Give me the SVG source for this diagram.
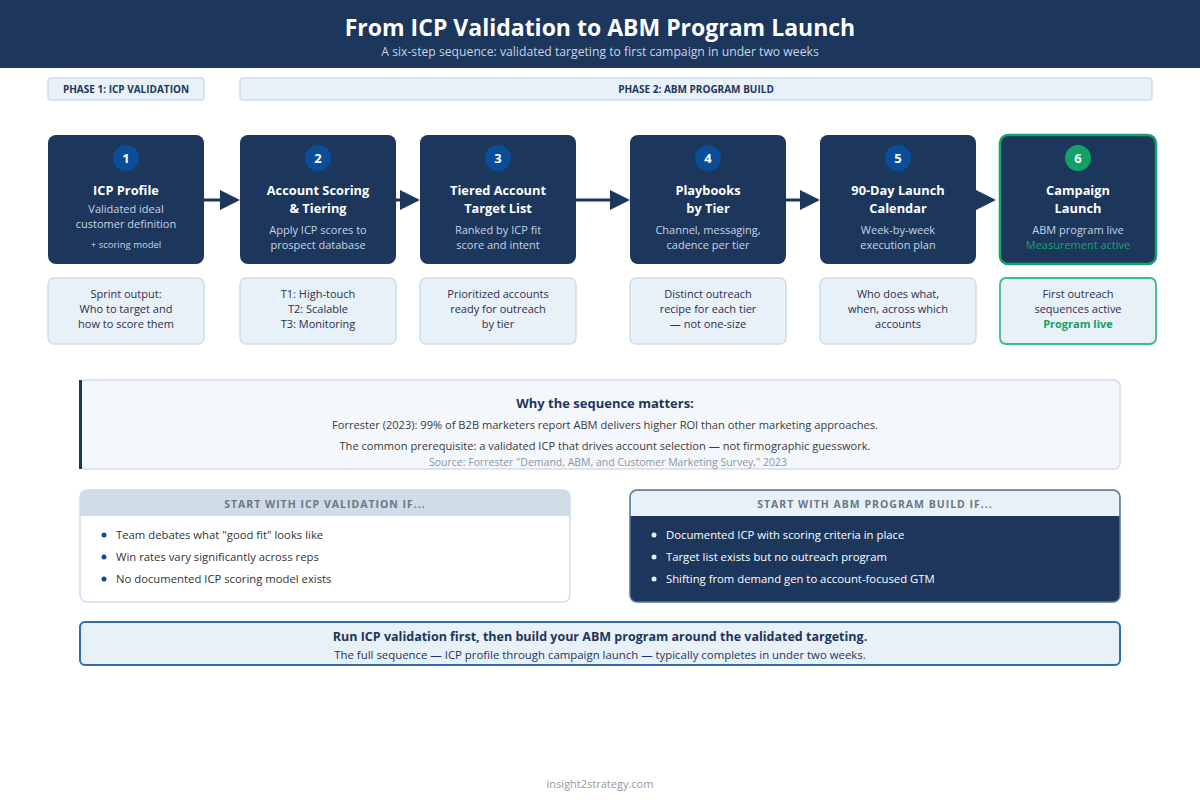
<svg xmlns="http://www.w3.org/2000/svg" width="1200" height="800" viewBox="0 0 1200 800">
<defs>
<style>
text{font-family:"Open Sans","Noto Sans","DejaVu Sans",sans-serif;}
.node{fill:#1c365c;}
.num{fill:#ffffff;font-size:13px;font-weight:700;text-anchor:middle;}
.ttl{fill:#ffffff;font-size:12.8px;font-weight:700;text-anchor:middle;}
.dsc{fill:#c6d4e6;font-size:11px;text-anchor:middle;}
.sm{fill:#c6d4e6;font-size:9.5px;text-anchor:middle;}
.out{fill:#e8f0f8;stroke:#d0dcea;stroke-width:1.5;}
.otx{fill:#2b2f52;font-size:11px;text-anchor:middle;}
.ph{fill:#e8f0f8;stroke:#d0dcea;stroke-width:1.5;}
.phx{fill:#1c365c;font-size:10px;font-weight:700;text-anchor:middle;}
.conn line{stroke:#1c365c;stroke-width:3;}
.conn polygon{fill:#1c365c;}
.bul{font-size:11.3px;}
.hdr{font-size:10.5px;font-weight:700;letter-spacing:1px;fill:#6b7785;text-anchor:middle;}
</style>
</defs>
<rect width="1200" height="800" fill="#ffffff"/>
<g id="header">
<rect x="0" y="0" width="1200" height="68" fill="#1c365c"/>
<text x="600" y="36" fill="#ffffff" font-size="23" font-weight="700" text-anchor="middle">From ICP Validation to ABM Program Launch</text>
<text x="600" y="56" fill="#c6d4e6" font-size="12.2" text-anchor="middle">A six-step sequence: validated targeting to first campaign in under two weeks</text>
</g>
<g id="phase1">
<rect class="ph" x="48" y="78" width="156" height="22" rx="3"/>
<text class="phx" x="126" y="92.5">PHASE 1: ICP VALIDATION</text>
</g>
<g id="phase2">
<rect class="ph" x="240" y="78" width="912" height="22" rx="3"/>
<text class="phx" x="696" y="92.5">PHASE 2: ABM PROGRAM BUILD</text>
</g>
<g id="connectors" class="conn">
<line x1="204" y1="200" x2="222" y2="200"/><polygon points="220,190 240,200 220,210"/>
<line x1="396" y1="200" x2="402" y2="200"/><polygon points="400,190 420,200 400,210"/>
<line x1="576" y1="200" x2="612" y2="200"/><polygon points="610,190 630,200 610,210"/>
<line x1="786" y1="200" x2="802" y2="200"/><polygon points="800,190 820,200 800,210"/>
<polygon points="976,190 996,200 976,210"/>
</g>
<g id="node1">
<rect class="node" x="48" y="135" width="156" height="129" rx="8"/>
<circle cx="126" cy="158" r="13" fill="#0a4d98"/>
<text class="num" x="126" y="163">1</text>
<text class="ttl" x="126" y="195">ICP Profile</text>
<text class="dsc" x="126" y="213">Validated ideal</text>
<text class="dsc" x="126" y="228">customer definition</text>
<text class="sm" x="126" y="248">+ scoring model</text>
</g>
<g id="node2">
<rect class="node" x="240" y="135" width="156" height="129" rx="8"/>
<circle cx="318" cy="158" r="13" fill="#0a4d98"/>
<text class="num" x="318" y="163">2</text>
<text class="ttl" x="318" y="195">Account Scoring</text>
<text class="ttl" x="318" y="213">&amp; Tiering</text>
<text class="dsc" x="318" y="234">Apply ICP scores to</text>
<text class="dsc" x="318" y="249">prospect database</text>
</g>
<g id="node3">
<rect class="node" x="420" y="135" width="156" height="129" rx="8"/>
<circle cx="498" cy="158" r="13" fill="#0a4d98"/>
<text class="num" x="498" y="163">3</text>
<text class="ttl" x="498" y="195">Tiered Account</text>
<text class="ttl" x="498" y="213">Target List</text>
<text class="dsc" x="498" y="234">Ranked by ICP fit</text>
<text class="dsc" x="498" y="249">score and intent</text>
</g>
<g id="node4">
<rect class="node" x="630" y="135" width="156" height="129" rx="8"/>
<circle cx="708" cy="158" r="13" fill="#0a4d98"/>
<text class="num" x="708" y="163">4</text>
<text class="ttl" x="708" y="195">Playbooks</text>
<text class="ttl" x="708" y="213">by Tier</text>
<text class="dsc" x="708" y="234">Channel, messaging,</text>
<text class="dsc" x="708" y="249">cadence per tier</text>
</g>
<g id="node5">
<rect class="node" x="820" y="135" width="156" height="129" rx="8"/>
<circle cx="898" cy="158" r="13" fill="#0a4d98"/>
<text class="num" x="898" y="163">5</text>
<text class="ttl" x="898" y="195">90-Day Launch</text>
<text class="ttl" x="898" y="213">Calendar</text>
<text class="dsc" x="898" y="234">Week-by-week</text>
<text class="dsc" x="898" y="249">execution plan</text>
</g>
<g id="node6">
<rect class="node" x="1000" y="135" width="156" height="129" rx="8" stroke="#13a56d" stroke-width="2.5"/>
<circle cx="1078" cy="158" r="13" fill="#10a266"/>
<text class="num" x="1078" y="163">6</text>
<text class="ttl" x="1078" y="195">Campaign</text>
<text class="ttl" x="1078" y="213">Launch</text>
<text class="dsc" x="1078" y="234">ABM program live</text>
<text class="dsc" x="1078" y="249" style="fill:#14a86c">Measurement active</text>
</g>
<g id="output1">
<rect class="out" x="48" y="278" width="156" height="66" rx="6"/>
<text class="otx" x="126" y="298">Sprint output:</text>
<text class="otx" x="126" y="313">Who to target and</text>
<text class="otx" x="126" y="328">how to score them</text>
</g>
<g id="output2">
<rect class="out" x="240" y="278" width="156" height="66" rx="6"/>
<text class="otx" x="318" y="298">T1: High-touch</text>
<text class="otx" x="318" y="313">T2: Scalable</text>
<text class="otx" x="318" y="328">T3: Monitoring</text>
</g>
<g id="output3">
<rect class="out" x="420" y="278" width="156" height="66" rx="6"/>
<text class="otx" x="498" y="298">Prioritized accounts</text>
<text class="otx" x="498" y="313">ready for outreach</text>
<text class="otx" x="498" y="328">by tier</text>
</g>
<g id="output4">
<rect class="out" x="630" y="278" width="156" height="66" rx="6"/>
<text class="otx" x="708" y="298">Distinct outreach</text>
<text class="otx" x="708" y="313">recipe for each tier</text>
<text class="otx" x="708" y="328">— not one-size</text>
</g>
<g id="output5">
<rect class="out" x="820" y="278" width="156" height="66" rx="6"/>
<text class="otx" x="898" y="298">Who does what,</text>
<text class="otx" x="898" y="313">when, across which</text>
<text class="otx" x="898" y="328">accounts</text>
</g>
<g id="output6">
<rect x="1000" y="278" width="156" height="66" rx="6" fill="#e8f0f8" stroke="#3dba8a" stroke-width="1.8"/>
<text class="otx" x="1078" y="298">First outreach</text>
<text class="otx" x="1078" y="313">sequences active</text>
<text class="otx" x="1078" y="328" font-weight="700" style="fill:#13a064">Program live</text>
</g>
<g id="why">
<rect x="80" y="380" width="1040" height="89" rx="6" fill="#f4f7fb" stroke="#d2deea" stroke-width="1.5"/>
<rect x="79" y="380" width="3" height="89" fill="#1c365c"/>
<text x="605" y="408" fill="#1c365c" font-size="13" font-weight="700" text-anchor="middle">Why the sequence matters:</text>
<text x="605" y="429" fill="#3a3a3a" font-size="11.1" text-anchor="middle">Forrester (2023): 99% of B2B marketers report ABM delivers higher ROI than other marketing approaches.</text>
<text x="605" y="450" fill="#3a3a3a" font-size="11.1" text-anchor="middle">The common prerequisite: a validated ICP that drives account selection — not firmographic guesswork.</text>
<text x="608" y="466" fill="#8c96a2" font-size="10.5" text-anchor="middle">Source: Forrester "Demand, ABM, and Customer Marketing Survey," 2023</text>
</g>
<g id="icp-if">
<rect x="80" y="490" width="490" height="112" rx="7" fill="#ffffff" stroke="#d0dcea" stroke-width="1.5"/>
<path d="M80,516 V497 a7,7 0 0 1 7,-7 H563 a7,7 0 0 1 7,7 V516 Z" fill="#d0dce8"/>
<text class="hdr" x="325" y="507.5">START WITH ICP VALIDATION IF...</text>
<circle cx="104" cy="535" r="2.5" fill="#0a4d98"/>
<text class="bul" x="116" y="539" fill="#333333">Team debates what "good fit" looks like</text>
<circle cx="104" cy="557" r="2.5" fill="#0a4d98"/>
<text class="bul" x="116" y="561" fill="#333333">Win rates vary significantly across reps</text>
<circle cx="104" cy="579" r="2.5" fill="#0a4d98"/>
<text class="bul" x="116" y="583" fill="#333333">No documented ICP scoring model exists</text>
</g>
<g id="abm-if">
<rect x="630" y="490" width="490" height="112" rx="7" fill="#1c365c" stroke="#5a7496" stroke-width="1.5"/>
<path d="M630.75,516 V497 a6.25,6.25 0 0 1 6.25,-6.25 H1113 a6.25,6.25 0 0 1 6.25,6.25 V516 Z" fill="#e8f0f8"/>
<text class="hdr" x="875" y="507.5">START WITH ABM PROGRAM BUILD IF...</text>
<circle cx="654" cy="535" r="2.5" fill="#e8eef6"/>
<text class="bul" x="666" y="539" fill="#ffffff">Documented ICP with scoring criteria in place</text>
<circle cx="654" cy="557" r="2.5" fill="#e8eef6"/>
<text class="bul" x="666" y="561" fill="#ffffff">Target list exists but no outreach program</text>
<circle cx="654" cy="579" r="2.5" fill="#e8eef6"/>
<text class="bul" x="666" y="583" fill="#ffffff">Shifting from demand gen to account-focused GTM</text>
</g>
<g id="banner">
<rect x="80" y="622" width="1040" height="43" rx="5" fill="#e8f0f8" stroke="#2f6db0" stroke-width="2"/>
<text x="600" y="641" fill="#1c365c" font-size="12.5" font-weight="700" text-anchor="middle">Run ICP validation first, then build your ABM program around the validated targeting.</text>
<text x="600" y="659" fill="#1c365c" font-size="11.4" text-anchor="middle">The full sequence — ICP profile through campaign launch — typically completes in under two weeks.</text>
</g>
<g id="footer">
<text x="600" y="788" fill="#999999" font-size="11" text-anchor="middle">insight2strategy.com</text>
</g>
</svg>
